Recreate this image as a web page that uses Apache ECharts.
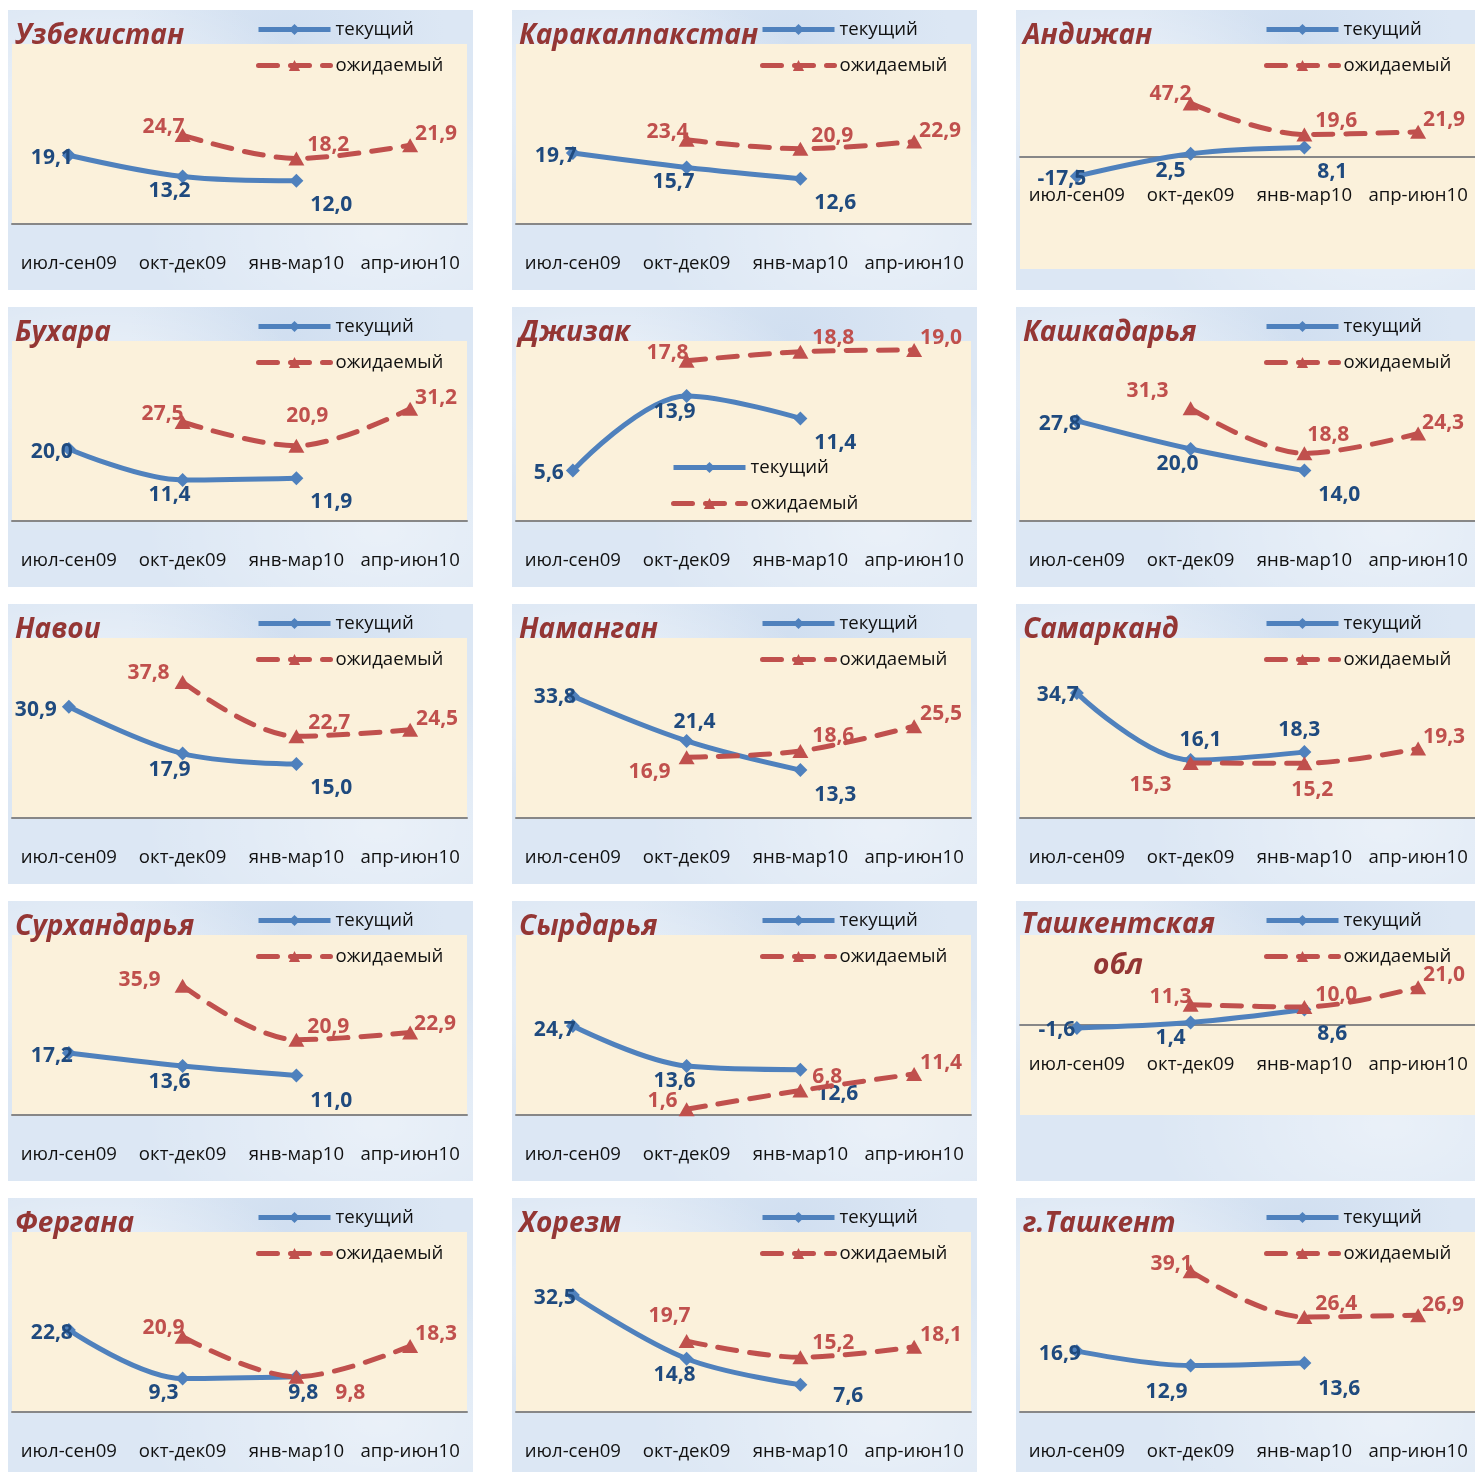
<!DOCTYPE html>
<html><head><meta charset="utf-8">
<script src="https://cdn.jsdelivr.net/npm/echarts@6/dist/echarts.min.js"></script>
<style>
html,body{margin:0;padding:0;background:#ffffff;}
body{width:1475px;height:1472px;overflow:hidden;position:relative;}
.p{position:absolute;width:465px;height:280px;
 background:
  radial-gradient(ellipse at 20% 30%, rgba(255,255,255,0.5), rgba(255,255,255,0) 40%),
  radial-gradient(ellipse at 80% 80%, rgba(255,255,255,0.4), rgba(255,255,255,0) 45%),
  radial-gradient(ellipse at 60% 10%, rgba(195,213,236,0.45), rgba(195,213,236,0) 40%),
  #dce7f4;}
</style></head><body>
<script>
// ---- data ----
const categories = ['июл-сен09', 'окт-дек09', 'янв-мар10', 'апр-июн10'];
const regions = ['Узбекистан', 'Каракалпакстан', 'Андижан', 'Бухара', 'Джизак', 'Кашкадарья',
  'Навои', 'Наманган', 'Самарканд', 'Сурхандарья', 'Сырдарья', 'Ташкентская\nобл',
  'Фергана', 'Хорезм', 'г.Ташкент'];
const seriesNames = ['текущий', 'ожидаемый'];
// "текущий": июл-сен09, окт-дек09, янв-мар10
const currentValues = [
  [19.1, 13.2, 12.0], [19.7, 15.7, 12.6], [-17.5, 2.5, 8.1],
  [20.0, 11.4, 11.9], [5.6, 13.9, 11.4], [27.8, 20.0, 14.0],
  [30.9, 17.9, 15.0], [33.8, 21.4, 13.3], [34.7, 16.1, 18.3],
  [17.2, 13.6, 11.0], [24.7, 13.6, 12.6], [-1.6, 1.4, 8.6],
  [22.8, 9.3, 9.8], [32.5, 14.8, 7.6], [16.9, 12.9, 13.6]
];
// "ожидаемый": окт-дек09, янв-мар10, апр-июн10
const expectedValues = [
  [24.7, 18.2, 21.9], [23.4, 20.9, 22.9], [47.2, 19.6, 21.9],
  [27.5, 20.9, 31.2], [17.8, 18.8, 19.0], [31.3, 18.8, 24.3],
  [37.8, 22.7, 24.5], [16.9, 18.6, 25.5], [15.3, 15.2, 19.3],
  [35.9, 20.9, 22.9], [1.6, 6.8, 11.4], [11.3, 10.0, 21.0],
  [20.9, 9.8, 18.3], [19.7, 15.2, 18.1], [39.1, 26.4, 26.9]
];
const axisMin = [0, 0, -100, 0, 0, 0, 0, 0, 0, 0, 0, -50, 0, 0, 0];
const axisMax = [50, 50, 100, 50, 20, 50, 50, 50, 50, 50, 50, 50, 50, 50, 50];

// ---- layout / style (not data) ----
const defCurOff = [[-17, 3], [-13, 15], [35, 24]];
const defExpOff = [[-19, -8], [32, -13], [26, -11]];
const curOff = {
  2: [[-15, 3], [-20, 17], [28, 25]],
  4: [[-24, 2], [-12, 16], [35, 25]],
  6: [[-33, 3], [-13, 16], [35, 24]],
  7: [[-18, 1], [8, -19], [35, 25]],
  8: [[-19, 2], [10, -20], [-5, -22]],
  9: [[-17, 3], [-13, 16], [35, 26]],
  10: [[-18, 4], [-12, 15], [37, 24]],
  11: [[-20, 2], [-20, 16], [28, 24]],
  12: [[-17, 3], [-19, 14], [7, 16]],
  13: [[-18, 3], [-12, 16], [48, 11]],
  14: [[-17, 3], [-24, 26], [35, 26]]
};
const expOff = {
  2: [[-20, -9], [32, -13], [26, -12]],
  3: [[-20, -8], [11, -30], [26, -11]],
  4: [[-19, -8], [33, -14], [27, -12]],
  5: [[-43, -17], [24, -18], [25, -11]],
  6: [[-34, -9], [33, -13], [27, -11]],
  7: [[-37, 15], [33, -15], [27, -12]],
  8: [[-40, 22], [8, 27], [26, -12]],
  9: [[-43, -6], [32, -13], [25, -9]],
  10: [[-24, -8], [27, -14], [27, -11]],
  11: [[-20, -8], [32, -12], [26, -12]],
  12: [[-19, -9], [54, 16], [26, -12]],
  13: [[-17, -25], [33, -14], [27, -12]],
  14: [[-19, -7], [32, -13], [25, -10]]
};
const FONT = '"Open Sans", "Liberation Sans", sans-serif';
const BLUE = '#4F81BD', BLUE_TXT = '#1F4A7E', RED = '#C0504D', TITLE = '#943634';
const fmt = v => v.toFixed(1).replace('.', ',');

regions.forEach((name, i) => {
  const col = i % 3, row = Math.floor(i / 3);
  const div = document.createElement('div');
  div.className = 'p';
  div.style.left = (8 + 504 * col) + 'px';
  div.style.top = (10 + 297 * row) + 'px';
  document.body.appendChild(div);
  const chart = echarts.init(div, null, { renderer: 'canvas' });

  const co = curOff[i] || defCurOff;
  const eo = expOff[i] || defExpOff;
  const cur = currentValues[i].map((v, k) => ({ value: v, label: { offset: co[k] } }));
  cur.push(null);
  const exp = [null].concat(expectedValues[i].map((v, k) => ({ value: v, label: { offset: eo[k] } })));

  const gridH = (i === 2) ? 225 : 180;
  // move the category axis up to the zero line when the range has negatives
  const zeroShift = gridH * (0 - axisMin[i]) / (axisMax[i] - axisMin[i]);
  const isTwoLine = name.indexOf('\n') >= 0;
  const legendPos = (i === 4) ? { left: 159, top: 151 } : { left: 248, top: 10 };

  chart.setOption({
    backgroundColor: 'transparent',
    animation: false,
    title: {
      text: name,
      left: isTwoLine ? 102 : 7,
      top: isTwoLine ? 4 : 6,
      padding: 0,
      textAlign: isTwoLine ? 'center' : 'left',
      textStyle: {
        fontFamily: FONT, fontSize: 28, fontWeight: 'bold', fontStyle: 'italic',
        color: TITLE, lineHeight: 41
      }
    },
    legend: {
      data: seriesNames,
      orient: 'vertical',
      left: legendPos.left, top: legendPos.top,
      padding: 0,
      itemWidth: 72, itemHeight: 14, itemGap: 17,
      lineStyle: { width: 5 },
      textStyle: { fontFamily: FONT, fontSize: 18.6, color: '#111' }
    },
    grid: {
      left: 4, right: 6, top: 34, height: gridH,
      outerBoundsMode: 'none', containLabel: false,
      show: true, backgroundColor: '#FBF1DB', borderWidth: 0
    },
    xAxis: {
      type: 'category', data: categories, boundaryGap: true,
      offset: -zeroShift,
      axisLine: { show: true, onZero: false, lineStyle: { color: '#878787', width: 2 } },
      axisTick: { show: false },
      axisLabel: { margin: 30, fontFamily: FONT, fontSize: 18.6, color: '#111', interval: 0 }
    },
    yAxis: {
      type: 'value', min: axisMin[i], max: axisMax[i],
      show: false, splitLine: { show: false }
    },
    series: [
      {
        name: seriesNames[0], type: 'line', data: cur, smooth: 0.35,
        symbol: 'diamond', symbolSize: 14,
        itemStyle: { color: BLUE },
        lineStyle: { color: BLUE, width: 5 },
        label: {
          show: true, position: 'inside', formatter: p => fmt(p.value),
          fontFamily: FONT, fontSize: 21, fontWeight: 'bold', color: BLUE_TXT
        },
        z: 2
      },
      {
        name: seriesNames[1], type: 'line', data: exp, smooth: 0.35,
        symbol: 'triangle', symbolSize: [16, 14],
        itemStyle: { color: RED },
        lineStyle: { color: RED, width: 5, type: [19, 13], cap: 'round' },
        label: {
          show: true, position: 'inside', formatter: p => fmt(p.value),
          fontFamily: FONT, fontSize: 21, fontWeight: 'bold', color: RED
        },
        z: 3
      }
    ]
  });
});
</script>
</body></html>
